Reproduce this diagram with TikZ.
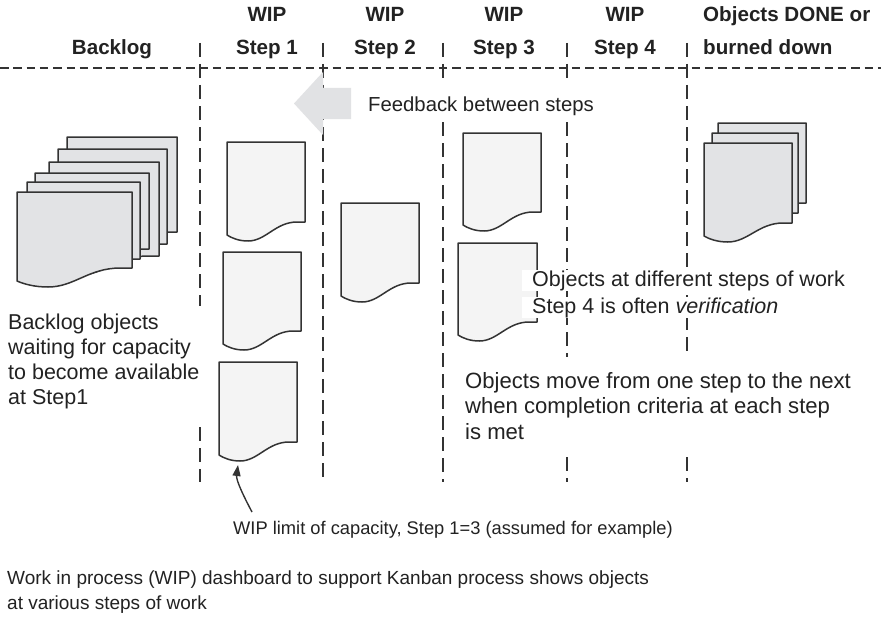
\documentclass[tikz,border=0pt]{standalone}
\usepackage{fontspec}
\setmainfont{Liberation Sans}
\usetikzlibrary{arrows.meta}
\definecolor{ink}{HTML}{222222}
\definecolor{edge}{HTML}{333333}
\definecolor{stackgray}{HTML}{E2E3E5}
\definecolor{docwhite}{HTML}{F4F4F4}
\definecolor{arrowgray}{HTML}{E1E2E4}
\tikzset{
  vline/.style={edge, line width=1.3pt, dash pattern=on 14pt off 7pt},
  hline/.style={edge, line width=1.3pt, dash pattern=on 8.5pt off 4.8pt},
  stackdoc/.style={draw=edge, fill=stackgray, line width=1.5pt, line join=round},
  stepdoc/.style={draw=edge, fill=docwhite, line width=1.5pt, line join=round},
  head/.style={font=\fontsize{20.6}{33}\selectfont\bfseries, text=ink, inner sep=0pt, align=center},
  body/.style={font=\fontsize{21.5}{25}\selectfont, text=ink, inner sep=0pt, align=left},
  small/.style={font=\fontsize{19}{25}\selectfont, text=ink, inner sep=0pt, align=left},
  boxline/.style={font=\fontsize{21.5}{25}\selectfont, text=ink, fill=white, inner xsep=10pt, inner ysep=0pt, text height=16pt, text depth=5pt}
}
% #1 name, #2 x, #3 y, #4 w, #5 h, #6 style
\newcommand{\kdoc}[6]{%
  \draw[#6] (#2,#3) -- ({#2+#4},#3) -- ({#2+#4},{#3+#5}) -- ({#2+0.9*#4},{#3+#5})
    .. controls ({#2+0.62*#4},{#3+#5}) and ({#2+0.5*#4},{#3+#5+19}) .. ({#2+0.27*#4},{#3+#5+19})
    .. controls ({#2+0.15*#4},{#3+#5+19}) and ({#2+0.06*#4},{#3+#5+16}) .. (#2,{#3+#5+13}) -- cycle;
  \coordinate (#1) at ({#2+0.5*#4},{#3+0.5*#5});}
\begin{document}
\begin{tikzpicture}[x=1pt,y=-1pt]
\useasboundingbox[fill=white] (0,0) rectangle (881,618);

% backlog stack
\kdoc{b6}{67}{137}{110}{95}{stackdoc}
\kdoc{b5}{58}{149}{109}{95}{stackdoc}
\kdoc{b4}{49}{162}{110}{94}{stackdoc}
\kdoc{b3}{35}{173}{114}{76}{stackdoc}
\kdoc{b2}{27}{182}{113}{77}{stackdoc}
\kdoc{b1}{17}{192}{115}{76}{stackdoc}

% step documents
\kdoc{s1a}{227}{142}{78}{80}{stepdoc}
\kdoc{s1b}{223}{252}{78}{79}{stepdoc}
\kdoc{s1c}{219}{362}{78}{80}{stepdoc}
\kdoc{s2a}{341}{203}{78}{80}{stepdoc}
\kdoc{s3a}{463}{133}{78}{79}{stepdoc}
\kdoc{s3b}{458}{243}{79}{79}{stepdoc}

% done stack
\kdoc{d3}{718}{123}{88}{80}{stackdoc}
\kdoc{d2}{712}{133}{86}{80}{stackdoc}
\kdoc{d1}{704}{143}{88}{80}{stackdoc}

% horizontal dashed line
\draw[hline] (0,68) -- (881,68);

% vertical dashed lines
\draw[vline] (200,43) -- (200,306);
\draw[vline] (200,427) -- (200,482);
\draw[vline] (323,43) -- (323,482);
\draw[vline] (443,43) -- (443,80);
\draw[vline] (443,122) -- (443,482);
\draw[vline] (567,43) -- (567,80);
\draw[vline] (567,122) -- (567,357);
\draw[vline] (567,457) -- (567,482);
\draw[vline] (687,43) -- (687,357);
\draw[vline] (687,457) -- (687,482);

% feedback arrow
\fill[arrowgray] (351,88) -- (323,88) -- (323,72) -- (294,103.5) -- (323,135) -- (323,119) -- (351,119) -- cycle;

% headers
\node[head, anchor=base] (hback) at (112,55) {Backlog};
\node[head, anchor=base] (hw1) at (267,22) {WIP};
\node[head, anchor=base] (hs1) at (267,55) {Step 1};
\node[head, anchor=base] (hw2) at (385,22) {WIP};
\node[head, anchor=base] (hs2) at (385,55) {Step 2};
\node[head, anchor=base] (hw3) at (504,22) {WIP};
\node[head, anchor=base] (hs3) at (504,55) {Step 3};
\node[head, anchor=base] (hw4) at (625,22) {WIP};
\node[head, anchor=base] (hs4) at (625,55) {Step 4};
\node[head, anchor=base west] (hd1) at (703,22) {Objects DONE or};
\node[head, anchor=base west] (hd2) at (703,55) {burned down};

% texts
\node[body, font=\fontsize{20.3}{25}\selectfont, anchor=base west] (feed) at (368,111) {Feedback between steps};
\node[boxline, anchor=base west] (diff1) at (522,286) {Objects at different steps of work};
\node[boxline, anchor=base west] (diff2) at (522,313) {Step 4 is often \textit{verification}};
\node[body, anchor=north west, text depth=0pt] (back) at (8,314) {Backlog objects\\waiting for capacity\\to become available\\at Step1};
\node[body, font=\fontsize{22.1}{25.5}\selectfont, anchor=north west] (move) at (465,372) {Objects move from one step to the next\\when completion criteria at each step\\is met};
\node[small, font=\fontsize{18.3}{25}\selectfont, anchor=base west] (limit) at (233,534) {WIP limit of capacity, Step 1=3 (assumed for example)};
\node[small, anchor=base west] (dash1) at (7,584) {Work in process (WIP) dashboard to support Kanban process shows objects};
\node[small, anchor=base west] (dash2) at (7,609) {at various steps of work};

% WIP limit arrow
\coordinate (lstart) at (252,512);
\coordinate (ltip) at (238,465);
\draw[edge, line width=1.4pt, -{Triangle[length=11pt,width=8pt]}] (lstart) .. controls (243,495) and (236,480) .. (ltip);
\end{tikzpicture}
\end{document}
